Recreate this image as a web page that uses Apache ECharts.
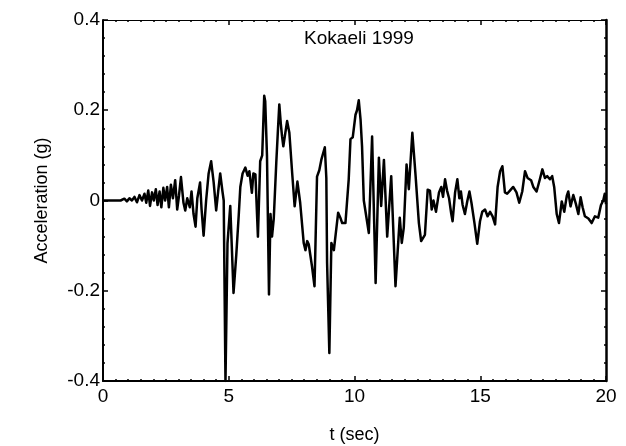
<!DOCTYPE html>
<html>
<head>
<meta charset="utf-8">
<title>Kokaeli 1999</title>
<script src="https://cdn.jsdelivr.net/npm/echarts@6/dist/echarts.min.js"></script>
<style>
  html, body { margin: 0; padding: 0; background: #fff; }
  #chart { width: 626px; height: 446px; }
</style>
</head>
<body>
<div id="chart"></div>
<script>
// time (sec) and ground acceleration (g)
const times = [
  0, 0.7, 0.85, 0.95, 1.05, 1.15, 1.25, 1.35, 1.45, 1.55, 1.65, 1.72, 1.8, 1.87, 1.95,
  2.02, 2.1, 2.17, 2.25, 2.32, 2.4, 2.47, 2.55, 2.62, 2.7, 2.78, 2.87, 2.95,
  3.02, 3.1, 3.2, 3.27, 3.35, 3.45, 3.52, 3.6, 3.68, 3.75, 3.86, 3.92,
  4.0, 4.1, 4.2, 4.3, 4.4, 4.5, 4.58, 4.66, 4.75, 4.8, 4.87, 4.95,
  5.06, 5.12, 5.19, 5.3, 5.4, 5.46, 5.55, 5.66, 5.75, 5.82, 5.92, 5.98,
  6.06, 6.16, 6.25, 6.33, 6.41, 6.45, 6.52, 6.6, 6.66, 6.72, 6.79, 6.89, 6.95,
  7.01, 7.07, 7.12, 7.17, 7.25, 7.32, 7.41, 7.52, 7.62, 7.73, 7.84, 7.98,
  8.05, 8.12, 8.18, 8.31, 8.41, 8.51, 8.6, 8.68, 8.82, 8.88, 8.91,
  9.0, 9.08, 9.18, 9.35, 9.45, 9.51, 9.64, 9.77, 9.84, 9.93,
  10.04, 10.1, 10.17, 10.24, 10.3, 10.37, 10.44, 10.57, 10.7, 10.84, 10.97,
  11.06, 11.17, 11.3, 11.46, 11.63, 11.8, 11.88, 11.96,
  12.07, 12.16, 12.3, 12.43, 12.56, 12.65,
  12.8, 12.91, 13.0, 13.07, 13.14, 13.24, 13.36, 13.45, 13.52, 13.6,
  13.68, 13.76, 13.84, 13.9, 14.0, 14.09, 14.17, 14.23, 14.3, 14.39,
  14.49, 14.57, 14.65, 14.77, 14.88, 14.99, 15.08, 15.19, 15.29, 15.39,
  15.49, 15.59, 15.69, 15.79, 15.88, 15.98, 16.07, 16.18, 16.31, 16.44,
  16.55, 16.67, 16.78, 16.88, 17.02, 17.11, 17.24, 17.37, 17.47, 17.57,
  17.66, 17.77, 17.86, 17.94, 18.04, 18.13, 18.24, 18.34, 18.44, 18.5,
  18.59, 18.7, 18.8, 18.9, 18.99, 19.07, 19.16, 19.3, 19.43, 19.56,
  19.69, 19.8, 19.89, 19.95, 20.0
]
const accel = [
  0, 0, 0.004, -0.002, 0.005, 0, 0.008, -0.004, 0.012, 0, 0.015, -0.005, 0.022, -0.012, 0.018,
  0, 0.025, -0.01, 0.02, -0.015, 0.028, 0, 0.03, -0.015, 0.035, 0.005, 0.045, -0.02,
  0.01, 0.052, -0.005, -0.022, 0.005, -0.015, 0.02, -0.03, -0.058, 0.005, 0.04, -0.02,
  -0.078, 0, 0.06, 0.087, 0.04, -0.022, 0.02, 0.06, 0.02, 0, -0.4, -0.095,
  -0.012, -0.1, -0.205, -0.12, -0.03, 0.03, 0.06, 0.073, 0.055, 0.065, 0.017, 0.06,
  0.058, -0.08, 0.087, 0.1, 0.232, 0.22, 0.1, -0.208, -0.03, -0.08, -0.04, 0.084, 0.15,
  0.213, 0.17, 0.142, 0.12, 0.15, 0.176, 0.15, 0.062, -0.013, 0.042, -0.005, -0.094,
  -0.11, -0.09, -0.097, -0.146, -0.19, 0.053, 0.067, 0.09, 0.118, 0.05, -0.138,
  -0.338, -0.094, -0.11, -0.027, -0.04, -0.05, -0.05, 0.047, 0.136, 0.14,
  0.19, 0.2, 0.222, 0.18, 0.12, 0, 0, -0.072, 0.142, -0.183, 0.095,
  -0.012, 0.09, -0.08, 0.054, -0.19, -0.038, -0.094, -0.06,
  0.08, 0.025, 0.15, 0.054, -0.05, -0.09,
  -0.076, 0.024, 0.022, -0.02, 0, -0.025, 0.018, 0.03, 0.008, 0.047,
  0.022, 0.005, -0.027, -0.046, 0.018, 0.047, 0.005, 0.02, -0.01, -0.03,
  0, 0.02, -0.005, -0.05, -0.096, -0.046, -0.025, -0.02, -0.035, -0.025,
  -0.035, -0.053, 0.03, 0.065, 0.076, 0.018, 0.015, 0.022, 0.03, 0.018,
  -0.005, 0.02, 0.065, 0.05, 0.045, 0.03, 0.02, 0.047, 0.069, 0.05,
  0.054, 0.047, 0.054, 0.03, -0.03, -0.05, -0.002, -0.025, 0.01, 0.02,
  -0.013, 0.012, -0.007, -0.03, 0.007, -0.015, -0.035, -0.04, -0.05, -0.035,
  -0.038, -0.01, 0, 0.015, -0.008
]
const xTicks = [0, 5, 10, 15, 20]
const yTicks = [-0.4, -0.2, 0, 0.2, 0.4]

const chart = echarts.init(document.getElementById('chart'))

const font = 'Liberation Sans, Arial, sans-serif'

function boxAxis(extra) {
  return Object.assign({
    type: 'value',
    splitLine: { show: false },
    axisLine: { show: true, onZero: false, lineStyle: { color: '#000', width: 2 } },
    axisTick: { show: true, inside: true, length: 5, lineStyle: { color: '#000', width: 1.5 } },
    axisLabel: { show: false }
  }, extra)
}

const xBase = {
  min: xTicks[0],
  max: xTicks[xTicks.length - 1],
  interval: xTicks[1] - xTicks[0],
  minorTick: { show: true, splitNumber: 10, length: 2, lineStyle: { color: '#000', width: 1.5 } }
}
const yBase = {
  min: yTicks[0],
  max: yTicks[yTicks.length - 1],
  interval: yTicks[1] - yTicks[0],
  minorTick: { show: true, splitNumber: 5, length: 2, lineStyle: { color: '#000', width: 1.5 } }
}

chart.setOption({
  animation: false,
  backgroundColor: '#fff',
  title: {
    text: 'Kokaeli 1999',
    left: 354,
    textAlign: 'center',
    top: 24,
    textStyle: { fontFamily: font, fontSize: 19, fontWeight: 'normal', color: '#000' }
  },
  grid: { left: 103, right: 20, top: 20, bottom: 65, containLabel: false, outerBoundsMode: 'none' },
  xAxis: [
    boxAxis(Object.assign({}, xBase, {
      position: 'bottom',
      axisLabel: { show: true, margin: 6, fontFamily: font, fontSize: 19, color: '#000' },
      name: 't (sec)',
      nameLocation: 'middle',
      nameGap: 45,
      nameTextStyle: { fontFamily: font, fontSize: 18, color: '#000' }
    })),
    boxAxis(Object.assign({}, xBase, {
      position: 'top',
      axisLine: { show: true, onZero: false, lineStyle: { color: '#000', width: 1 } }
    }))
  ],
  yAxis: [
    boxAxis(Object.assign({}, yBase, {
      position: 'left',
      axisLabel: { show: true, margin: 3, fontFamily: font, fontSize: 19, color: '#000' },
      name: 'Acceleration (g)',
      nameLocation: 'middle',
      nameGap: 52,
      nameTextStyle: { fontFamily: font, fontSize: 18, color: '#000' }
    })),
    boxAxis(Object.assign({}, yBase, {
      position: 'right',
      axisLine: { show: true, onZero: false, lineStyle: { color: '#000', width: 2.5 } }
    }))
  ],
  series: [{
    type: 'line',
    xAxisIndex: 0,
    yAxisIndex: 0,
    data: times.map((t, i) => [t, accel[i]]),
    showSymbol: false,
    clip: true,
    lineStyle: { color: '#000', width: 2.5, join: 'round' }
  }]
})
</script>
</body>
</html>
